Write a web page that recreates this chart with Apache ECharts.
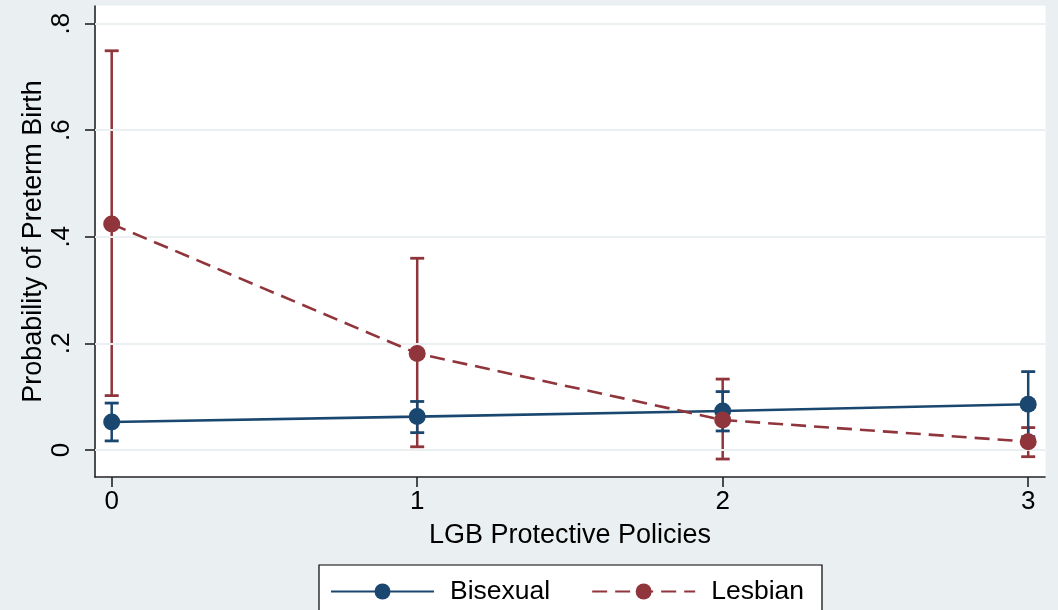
<!DOCTYPE html>
<html>
<head>
<meta charset="utf-8">
<script src="https://cdn.jsdelivr.net/npm/echarts@6/dist/echarts.min.js"></script>
<style>html,body{margin:0;padding:0;background:#eaf0f1;}#c{width:1058px;height:610px;}</style>
</head>
<body>
<div id="c"></div>
<script>
const categories = [0, 1, 2, 3];
const xTickLabels = ['0', '1', '2', '3'];
const yTicks = [0, 0.2, 0.4, 0.6, 0.8];
const yTickLabels = ['0', '.2', '.4', '.6', '.8'];

const bisexualEst = [0.0526, 0.0626, 0.073, 0.0858];
const bisexualLow = [0.017, 0.0325, 0.0357, 0.025];
const bisexualHigh = [0.088, 0.091, 0.1095, 0.147];

const lesbianEst = [0.424, 0.181, 0.0563, 0.0156];
const lesbianLow = [0.102, 0.006, -0.017, -0.0126];
const lesbianHigh = [0.749, 0.3597, 0.133, 0.042];

const BLUE = '#1a476f';
const RED = '#90353b';
const FONT = 'Liberation Sans, Arial, Helvetica, sans-serif';

function ciRender(color) {
  return function (params, api) {
    const x = api.value(0), lo = api.value(1), hi = api.value(2);
    const p1 = api.coord([x, lo]), p2 = api.coord([x, hi]);
    const w = 7;
    const st = { stroke: color, lineWidth: 2.5 };
    return {
      type: 'group',
      children: [
        { type: 'line', shape: { x1: p1[0], y1: p1[1], x2: p2[0], y2: p2[1] }, style: st },
        { type: 'line', shape: { x1: p1[0] - w, y1: p1[1], x2: p1[0] + w, y2: p1[1] }, style: { stroke: color, lineWidth: 2.8 } },
        { type: 'line', shape: { x1: p2[0] - w, y1: p2[1], x2: p2[0] + w, y2: p2[1] }, style: { stroke: color, lineWidth: 2.8 } }
      ]
    };
  };
}

const chart = echarts.init(document.getElementById('c'));
chart.setOption({
  backgroundColor: '#eaf0f1',
  animation: false,
  textStyle: { fontFamily: FONT },
  grid: { left: 95, right: 13, top: 6, bottom: 133, show: true, backgroundColor: '#ffffff', borderWidth: 1, borderColor: '#ffffff' },
  legend: {
    data: ['Bisexual', 'Lesbian'],
    left: 319, top: 565,
    orient: 'horizontal',
    backgroundColor: '#ffffff',
    borderColor: '#000000',
    borderWidth: 1.2,
    padding: [13, 18, 30, 11],
    itemWidth: 103,
    itemHeight: 20,
    itemGap: 41,
    selectedMode: false,
    textStyle: { fontSize: 26.5, color: '#000', fontFamily: FONT, padding: [0, 0, 0, 11] }
  },
  xAxis: {
    type: 'value',
    min: -0.0547, max: 3.055,
    name: 'LGB Protective Policies',
    nameLocation: 'middle',
    nameGap: 45,
    nameMoveOverlap: false,
    nameTextStyle: { fontSize: 27, color: '#000', fontFamily: FONT },
    axisLine: { show: true, onZero: false, lineStyle: { color: '#222', width: 1.6 } },
    axisTick: { show: true, length: 10, customValues: categories, lineStyle: { color: '#222', width: 1.6 } },
    axisLabel: {
      customValues: categories,
      formatter: v => xTickLabels[categories.indexOf(Math.round(v))],
      fontSize: 26, color: '#000', margin: 12, fontFamily: FONT
    },
    splitLine: { show: false }
  },
  yAxis: {
    type: 'value',
    min: -0.0507, max: 0.833,
    name: 'Probability of Preterm Birth',
    nameLocation: 'middle',
    nameGap: 48,
    nameRotate: 90,
    nameMoveOverlap: false,
    nameTextStyle: { fontSize: 27, color: '#000', fontFamily: FONT },
    axisLine: { show: true, onZero: false, lineStyle: { color: '#222', width: 1.6 } },
    axisTick: { show: true, length: 10, customValues: yTicks, lineStyle: { color: '#222', width: 1.6 } },
    axisLabel: {
      customValues: yTicks,
      rotate: 90,
      formatter: v => { const i = yTicks.findIndex(t => Math.abs(t - v) < 1e-6); return i >= 0 ? yTickLabels[i] : ''; },
      fontSize: 26, color: '#000', margin: 20, fontFamily: FONT
    },
    splitLine: { show: false }
  },
  series: [
    {
      name: 'Grid', type: 'line', data: [], silent: true,
      markLine: {
        silent: true, symbol: 'none', label: { show: false },
        lineStyle: { color: '#eaf0f1', width: 1.8, type: 'solid' },
        data: yTicks.map(v => ({ yAxis: v }))
      }
    },
    {
      name: 'Lesbian CI', type: 'custom', z: 2,
      renderItem: ciRender(RED),
      encode: { x: 0, y: [1, 2] },
      data: categories.map((c, i) => [c, lesbianLow[i], lesbianHigh[i]])
    },
    {
      name: 'Bisexual CI', type: 'custom', z: 3,
      renderItem: ciRender(BLUE),
      encode: { x: 0, y: [1, 2] },
      data: categories.map((c, i) => [c, bisexualLow[i], bisexualHigh[i]])
    },
    {
      name: 'Bisexual', type: 'line', z: 4,
      data: categories.map((c, i) => [c, bisexualEst[i]]),
      symbol: 'circle', symbolSize: 17,
      lineStyle: { color: BLUE, width: 2.6 },
      itemStyle: { color: BLUE }
    },
    {
      name: 'Lesbian', type: 'line', z: 5,
      data: categories.map((c, i) => [c, lesbianEst[i]]),
      symbol: 'circle', symbolSize: 17,
      lineStyle: { color: RED, width: 2.6, type: [15, 8] },
      itemStyle: { color: RED }
    }
  ]
});
</script>
</body>
</html>
